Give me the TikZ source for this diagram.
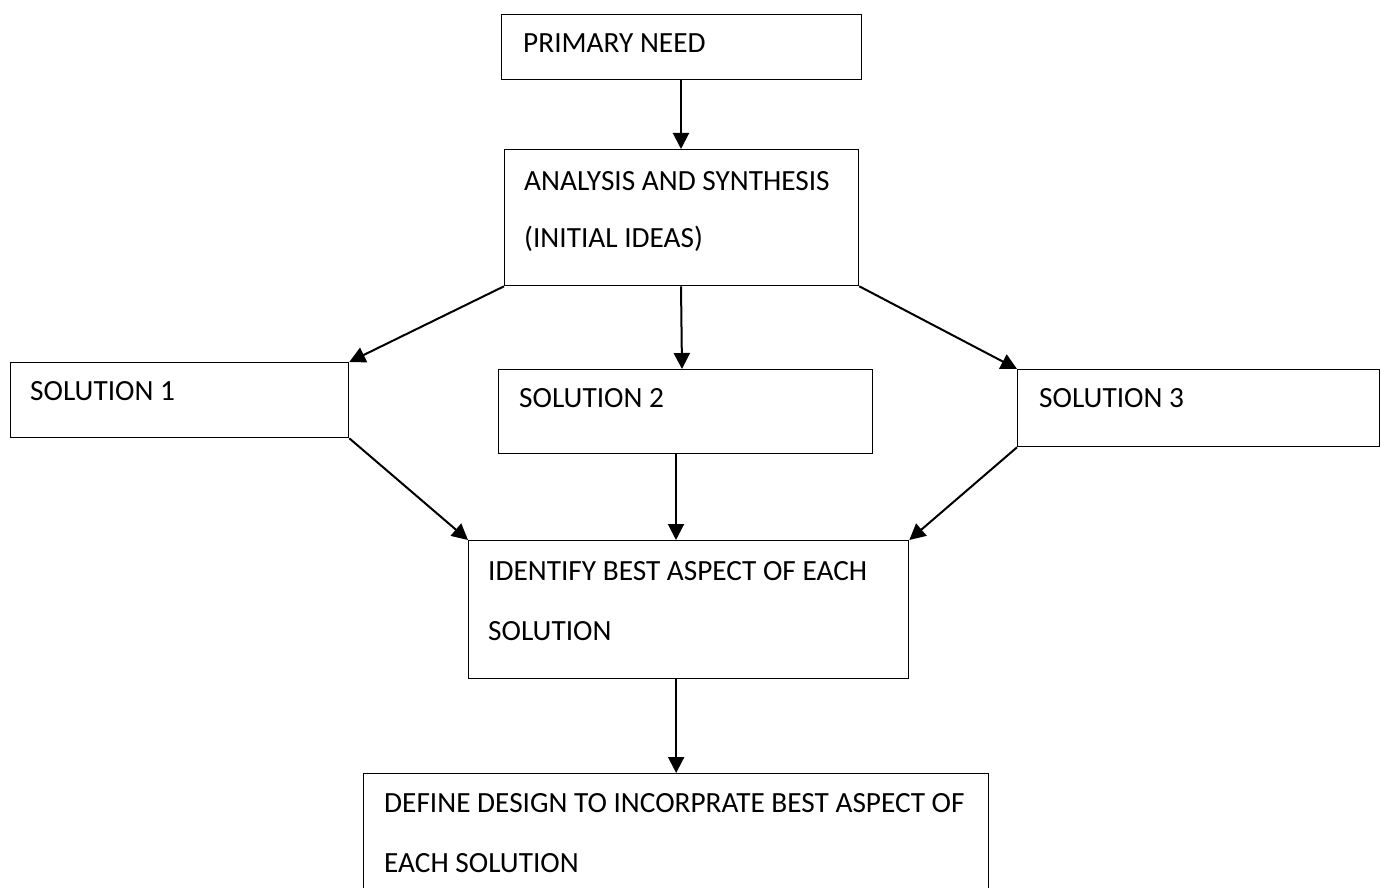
\documentclass[tikz,border=0pt]{standalone}
\usepackage{fontspec}
\setmainfont{Carlito}
\usetikzlibrary{arrows.meta,positioning,calc}
\tikzset{
  box/.style={draw=black, line width=1.3pt, rectangle, inner sep=0pt, anchor=north west},
  txt/.style={anchor=base west, inner sep=0pt, font=\fontsize{29.3}{31}\selectfont},
  arr/.style={draw=black, line width=2pt, -{Triangle[length=16pt,width=16pt]}, shorten >=0pt}
}
\begin{document}
\begin{tikzpicture}[x=1pt,y=-1pt]
\useasboundingbox (0,0) rectangle (1381,888);
% boxes
\node[box, minimum width=360pt, minimum height=65pt] (pn) at (501,14) {};
\node[box, minimum width=354pt, minimum height=136pt] (an) at (504,149) {};
\node[box, minimum width=338pt, minimum height=75pt] (s1) at (10,362) {};
\node[box, minimum width=374pt, minimum height=84pt] (s2) at (498,369) {};
\node[box, minimum width=362pt, minimum height=77pt] (s3) at (1017,369) {};
\node[box, minimum width=440pt, minimum height=138pt] (id) at (468,540) {};
\node[box, minimum width=625pt, minimum height=130pt] (de) at (363,773) {};
% texts
\node[txt] (tpn) at (523,53) {PRIMARY NEED};
\node[txt] (tan1) at (524,190) {ANALYSIS AND SYNTHESIS};
\node[txt] (tan2) at (524,247) {(INITIAL IDEAS)};
\node[txt] (ts1) at (30,400) {SOLUTION 1};
\node[txt] (ts2) at (519,407) {SOLUTION 2};
\node[txt] (ts3) at (1039,407) {SOLUTION 3};
\node[txt] (tid1) at (488,580) {IDENTIFY BEST ASPECT OF EACH};
\node[txt] (tid2) at (488,640) {SOLUTION};
\node[txt] (tde1) at (384,812) {DEFINE DESIGN TO INCORPRATE BEST ASPECT OF};
\node[txt] (tde2) at (384,872) {EACH SOLUTION};
% connectors
\draw[arr] (pn.south -| 681,0) -- (an.north -| 681,0);
\draw[arr] (an.south west) -- (s1.north east);
\draw[arr] (an.south -| 681,0) -- (s2.north -| 682,0);
\draw[arr] (an.south east) -- (s3.north west);
\draw[arr] (s1.south east) -- (id.north west);
\draw[arr] (s2.south -| 676,0) -- (id.north -| 676,0);
\draw[arr] (s3.south west) -- (id.north east);
\draw[arr] (id.south -| de.north) -- (de.north);
\end{tikzpicture}
\end{document}
